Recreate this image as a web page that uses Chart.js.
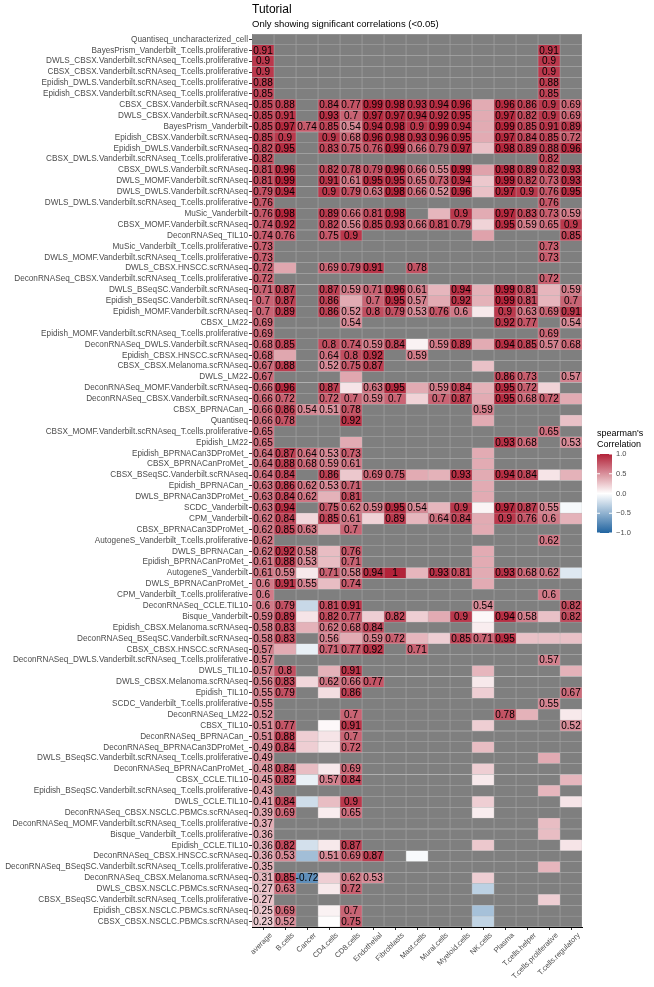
<!DOCTYPE html>
<html>
<head>
<meta charset="utf-8">
<script src="https://cdn.jsdelivr.net/npm/chart.js@4.4.0/dist/chart.umd.min.js"></script>
<style>
  body { margin: 0; background: #fff; }
  canvas { display: block; }
</style>
</head>
<body>
<canvas id="myChart" width="654" height="987"></canvas>
<script>
const _ = null;

const colLabels = ["average", "B.cells", "Cancer", "CD4.cells", "CD8.cells", "Endothelial", "Fibroblasts",
  "Mast.cells", "Mural.cells", "Myeloid.cells", "NK.cells", "Plasma", "T.cells.helper",
  "T.cells.proliferative", "T.cells.regulatory"];

const rowLabels = [
  "Quantiseq_uncharacterized_cell",
  "BayesPrism_Vanderbilt_T.cells.proliferative",
  "DWLS_CBSX.Vanderbilt.scRNAseq_T.cells.proliferative",
  "CBSX_CBSX.Vanderbilt.scRNAseq_T.cells.proliferative",
  "Epidish_DWLS.Vanderbilt.scRNAseq_T.cells.proliferative",
  "Epidish_CBSX.Vanderbilt.scRNAseq_T.cells.proliferative",
  "CBSX_CBSX.Vanderbilt.scRNAseq",
  "DWLS_CBSX.Vanderbilt.scRNAseq",
  "BayesPrism_Vanderbilt",
  "Epidish_CBSX.Vanderbilt.scRNAseq",
  "Epidish_DWLS.Vanderbilt.scRNAseq",
  "CBSX_DWLS.Vanderbilt.scRNAseq_T.cells.proliferative",
  "CBSX_DWLS.Vanderbilt.scRNAseq",
  "DWLS_MOMF.Vanderbilt.scRNAseq",
  "DWLS_DWLS.Vanderbilt.scRNAseq",
  "DWLS_DWLS.Vanderbilt.scRNAseq_T.cells.proliferative",
  "MuSic_Vanderbilt",
  "CBSX_MOMF.Vanderbilt.scRNAseq",
  "DeconRNASeq_TIL10",
  "MuSic_Vanderbilt_T.cells.proliferative",
  "DWLS_MOMF.Vanderbilt.scRNAseq_T.cells.proliferative",
  "DWLS_CBSX.HNSCC.scRNAseq",
  "DeconRNASeq_CBSX.Vanderbilt.scRNAseq_T.cells.proliferative",
  "DWLS_BSeqSC.Vanderbilt.scRNAseq",
  "Epidish_BSeqSC.Vanderbilt.scRNAseq",
  "Epidish_MOMF.Vanderbilt.scRNAseq",
  "CBSX_LM22",
  "Epidish_MOMF.Vanderbilt.scRNAseq_T.cells.proliferative",
  "DeconRNASeq_DWLS.Vanderbilt.scRNAseq",
  "Epidish_CBSX.HNSCC.scRNAseq",
  "CBSX_CBSX.Melanoma.scRNAseq",
  "DWLS_LM22",
  "DeconRNASeq_MOMF.Vanderbilt.scRNAseq",
  "DeconRNASeq_CBSX.Vanderbilt.scRNAseq",
  "CBSX_BPRNACan_",
  "Quantiseq",
  "CBSX_MOMF.Vanderbilt.scRNAseq_T.cells.proliferative",
  "Epidish_LM22",
  "Epidish_BPRNACan3DProMet_",
  "CBSX_BPRNACanProMet_",
  "CBSX_BSeqSC.Vanderbilt.scRNAseq",
  "Epidish_BPRNACan_",
  "DWLS_BPRNACan3DProMet_",
  "SCDC_Vanderbilt",
  "CPM_Vanderbilt",
  "CBSX_BPRNACan3DProMet_",
  "AutogeneS_Vanderbilt_T.cells.proliferative",
  "DWLS_BPRNACan_",
  "Epidish_BPRNACanProMet_",
  "AutogeneS_Vanderbilt",
  "DWLS_BPRNACanProMet_",
  "CPM_Vanderbilt_T.cells.proliferative",
  "DeconRNASeq_CCLE.TIL10",
  "Bisque_Vanderbilt",
  "Epidish_CBSX.Melanoma.scRNAseq",
  "DeconRNASeq_BSeqSC.Vanderbilt.scRNAseq",
  "CBSX_CBSX.HNSCC.scRNAseq",
  "DeconRNASeq_DWLS.Vanderbilt.scRNAseq_T.cells.proliferative",
  "DWLS_TIL10",
  "DWLS_CBSX.Melanoma.scRNAseq",
  "Epidish_TIL10",
  "SCDC_Vanderbilt_T.cells.proliferative",
  "DeconRNASeq_LM22",
  "CBSX_TIL10",
  "DeconRNASeq_BPRNACan_",
  "DeconRNASeq_BPRNACan3DProMet_",
  "DWLS_BSeqSC.Vanderbilt.scRNAseq_T.cells.proliferative",
  "DeconRNASeq_BPRNACanProMet_",
  "CBSX_CCLE.TIL10",
  "Epidish_BSeqSC.Vanderbilt.scRNAseq_T.cells.proliferative",
  "DWLS_CCLE.TIL10",
  "DeconRNASeq_CBSX.NSCLC.PBMCs.scRNAseq",
  "DeconRNASeq_MOMF.Vanderbilt.scRNAseq_T.cells.proliferative",
  "Bisque_Vanderbilt_T.cells.proliferative",
  "Epidish_CCLE.TIL10",
  "DeconRNASeq_CBSX.HNSCC.scRNAseq",
  "DeconRNASeq_BSeqSC.Vanderbilt.scRNAseq_T.cells.proliferative",
  "DeconRNASeq_CBSX.Melanoma.scRNAseq",
  "DWLS_CBSX.NSCLC.PBMCs.scRNAseq",
  "CBSX_BSeqSC.Vanderbilt.scRNAseq_T.cells.proliferative",
  "Epidish_CBSX.NSCLC.PBMCs.scRNAseq",
  "CBSX_CBSX.NSCLC.PBMCs.scRNAseq",
];

// spearman correlation per row, columns in colLabels order (null = no value, grey tile)
const corr = [
  [_, _, _, _, _, _, _, _, _, _, _, _, _, _, _],
  [0.91, _, _, _, _, _, _, _, _, _, _, _, _, 0.91, _],
  [0.9, _, _, _, _, _, _, _, _, _, _, _, _, 0.9, _],
  [0.9, _, _, _, _, _, _, _, _, _, _, _, _, 0.9, _],
  [0.88, _, _, _, _, _, _, _, _, _, _, _, _, 0.88, _],
  [0.85, _, _, _, _, _, _, _, _, _, _, _, _, 0.85, _],
  [0.85, 0.88, _, 0.84, 0.77, 0.99, 0.98, 0.93, 0.94, 0.96, 0.38, 0.96, 0.86, 0.9, 0.69],
  [0.85, 0.91, _, 0.93, 0.7, 0.97, 0.97, 0.94, 0.92, 0.95, 0.38, 0.97, 0.82, 0.9, 0.69],
  [0.85, 0.97, 0.74, 0.85, 0.54, 0.94, 0.98, 0.9, 0.99, 0.94, 0.38, 0.99, 0.85, 0.91, 0.89],
  [0.85, 0.9, _, 0.9, 0.68, 0.96, 0.98, 0.93, 0.96, 0.95, 0.38, 0.97, 0.84, 0.85, 0.72],
  [0.82, 0.95, _, 0.83, 0.75, 0.76, 0.99, 0.66, 0.79, 0.97, 0.28, 0.98, 0.89, 0.88, 0.96],
  [0.82, _, _, _, _, _, _, _, _, _, _, _, _, 0.82, _],
  [0.81, 0.96, _, 0.82, 0.78, 0.79, 0.96, 0.66, 0.55, 0.99, 0.42, 0.98, 0.89, 0.82, 0.93],
  [0.81, 0.99, _, 0.91, 0.61, 0.95, 0.95, 0.65, 0.73, 0.94, 0.25, 0.99, 0.82, 0.73, 0.93],
  [0.79, 0.94, _, 0.9, 0.79, 0.63, 0.98, 0.66, 0.52, 0.96, 0.28, 0.97, 0.9, 0.76, 0.95],
  [0.76, _, _, _, _, _, _, _, _, _, _, _, _, 0.76, _],
  [0.76, 0.98, _, 0.89, 0.66, 0.81, 0.98, _, 0.33, 0.9, 0.38, 0.97, 0.83, 0.73, 0.59],
  [0.74, 0.92, _, 0.82, 0.56, 0.85, 0.93, 0.66, 0.81, 0.79, 0.2, 0.95, 0.59, 0.65, 0.9],
  [0.74, 0.76, _, 0.75, 0.9, _, _, _, _, _, 0.42, _, _, _, 0.85],
  [0.73, _, _, _, _, _, _, _, _, _, _, _, _, 0.73, _],
  [0.73, _, _, _, _, _, _, _, _, _, _, _, _, 0.73, _],
  [0.72, 0.4, _, 0.69, 0.79, 0.91, _, 0.78, _, _, _, _, _, _, _],
  [0.72, _, _, _, _, _, _, _, _, _, _, _, _, 0.72, _],
  [0.71, 0.87, _, 0.87, 0.59, 0.71, 0.96, 0.61, 0.33, 0.94, 0.35, 0.99, 0.81, 0.33, 0.59],
  [0.7, 0.87, _, 0.86, 0.38, 0.7, 0.95, 0.57, 0.38, 0.92, 0.35, 0.99, 0.81, 0.33, 0.7],
  [0.7, 0.89, _, 0.86, 0.52, 0.8, 0.79, 0.53, 0.76, 0.6, 0.1, 0.9, 0.63, 0.69, 0.91],
  [0.69, _, _, _, 0.54, _, _, _, _, _, _, 0.92, 0.77, _, 0.54],
  [0.69, _, _, _, _, _, _, _, _, _, _, _, _, 0.69, _],
  [0.68, 0.85, _, 0.8, 0.74, 0.59, 0.84, 0.06, 0.59, 0.89, 0.38, 0.94, 0.85, 0.57, 0.68],
  [0.68, 0.4, _, 0.64, 0.8, 0.92, _, 0.59, _, _, _, _, _, _, _],
  [0.67, 0.88, _, 0.52, 0.75, 0.87, _, _, _, _, 0.28, _, _, _, _],
  [0.67, _, _, _, 0.4, _, _, _, _, _, _, 0.86, 0.73, _, 0.57],
  [0.66, 0.96, _, 0.87, 0.12, 0.63, 0.95, 0.38, 0.59, 0.84, 0.35, 0.95, 0.72, 0.2, _],
  [0.66, 0.72, _, 0.72, 0.7, 0.59, 0.7, 0.2, 0.7, 0.87, 0.38, 0.95, 0.68, 0.72, 0.38],
  [0.66, 0.86, 0.54, 0.51, 0.78, _, _, _, _, _, 0.59, _, _, _, _],
  [0.66, 0.78, _, _, 0.92, _, _, _, _, _, 0.38, _, _, _, 0.28],
  [0.65, _, _, _, _, _, _, _, _, _, _, _, _, 0.65, _],
  [0.65, _, _, _, 0.38, _, _, _, _, _, _, 0.93, 0.68, _, 0.53],
  [0.64, 0.87, 0.64, 0.53, 0.73, _, _, _, _, _, 0.38, _, _, _, _],
  [0.64, 0.88, 0.68, 0.59, 0.61, _, _, _, _, _, 0.38, _, _, _, _],
  [0.64, 0.84, _, 0.86, 0.25, 0.69, 0.75, 0.38, 0.35, 0.93, 0.38, 0.94, 0.84, 0.12, 0.35],
  [0.63, 0.86, 0.62, 0.53, 0.71, _, _, _, _, _, 0.38, _, _, _, _],
  [0.63, 0.84, 0.62, 0.35, 0.81, _, _, _, _, _, 0.38, _, _, _, _],
  [0.63, 0.94, _, 0.75, 0.62, 0.59, 0.95, 0.54, 0.33, 0.9, 0.05, 0.97, 0.87, 0.55, -0.04],
  [0.62, 0.84, 0.18, 0.85, 0.61, 0.2, 0.89, 0.33, 0.64, 0.84, 0.38, 0.9, 0.76, 0.6, 0.35],
  [0.62, 0.85, 0.63, 0.35, 0.7, _, _, _, _, _, 0.38, _, _, _, _],
  [0.62, _, _, _, _, _, _, _, _, _, _, _, _, 0.62, _],
  [0.62, 0.92, 0.58, 0.3, 0.76, _, _, _, _, _, 0.38, _, _, _, _],
  [0.61, 0.88, 0.53, 0.3, 0.71, _, _, _, _, _, 0.38, _, _, _, _],
  [0.61, 0.59, 0.1, 0.71, 0.58, 0.94, 1, 0.33, 0.93, 0.81, 0.38, 0.93, 0.68, 0.62, -0.15],
  [0.6, 0.91, 0.55, 0.3, 0.74, _, _, _, _, _, 0.38, _, _, _, _],
  [0.6, _, _, _, _, _, _, _, _, _, _, _, _, 0.6, _],
  [0.6, 0.79, -0.25, 0.81, 0.91, _, _, _, _, _, 0.54, _, _, _, 0.82],
  [0.59, 0.89, 0.12, 0.82, 0.77, 0.22, 0.82, 0.22, 0.38, 0.9, 0.03, 0.94, 0.58, 0.28, 0.82],
  [0.58, 0.83, 0.35, 0.62, 0.68, 0.84, _, _, _, _, 0.08, _, _, _, _],
  [0.58, 0.83, _, 0.56, 0.38, 0.59, 0.72, 0.33, 0.22, 0.85, 0.71, 0.95, 0.28, 0.28, 0.28],
  [0.57, 0.38, -0.1, 0.71, 0.77, 0.92, _, 0.71, _, _, _, _, _, _, _],
  [0.57, _, _, _, _, _, _, _, _, _, _, _, _, 0.57, _],
  [0.57, 0.8, _, 0.35, 0.91, _, _, _, _, _, 0.33, _, _, _, 0.35],
  [0.56, 0.83, 0.18, 0.62, 0.66, 0.77, _, _, _, _, 0.1, _, _, _, _],
  [0.55, 0.79, _, 0.15, 0.86, _, _, _, _, _, 0.22, _, _, _, 0.67],
  [0.55, _, _, _, _, _, _, _, _, _, _, _, _, 0.55, _],
  [0.52, _, _, _, 0.7, _, _, _, _, _, _, 0.78, 0.35, _, 0.1],
  [0.51, 0.77, _, 0.03, 0.91, _, _, _, _, _, 0.22, _, _, _, 0.52],
  [0.51, 0.88, 0.22, 0.12, 0.7, _, _, _, _, _, _, _, _, _, _],
  [0.49, 0.84, 0.22, 0.1, 0.72, _, _, _, _, _, 0.3, _, _, _, _],
  [0.49, _, _, _, _, _, _, _, _, _, _, _, _, 0.38, _],
  [0.48, 0.84, 0.3, 0.1, 0.69, _, _, _, _, _, 0.22, _, _, _, _],
  [0.45, 0.82, -0.1, 0.57, 0.84, _, _, _, _, _, 0.1, _, _, _, 0.33],
  [0.43, _, _, _, _, _, _, _, _, _, _, _, _, 0.33, _],
  [0.41, 0.84, -0.22, 0.3, 0.9, _, _, _, _, _, 0.22, _, _, _, 0.12],
  [0.39, 0.69, _, 0.08, 0.65, _, _, _, _, _, 0.08, _, _, _, _],
  [0.37, _, _, _, _, _, _, _, _, _, _, _, _, 0.3, _],
  [0.36, _, _, _, _, _, _, _, _, _, _, _, _, 0.3, _],
  [0.36, 0.82, -0.2, 0.1, 0.87, _, _, _, _, _, 0.25, _, _, _, 0.12],
  [0.36, 0.53, -0.42, 0.51, 0.69, 0.87, _, -0.03, _, _, _, _, _, _, _],
  [0.35, _, _, _, _, _, _, _, _, _, _, _, _, 0.33, _],
  [0.31, 0.85, -0.72, 0.22, 0.62, 0.53, _, _, _, _, 0.22, _, _, _, _],
  [0.27, 0.63, _, 0.1, 0.72, _, _, _, _, _, -0.3, _, _, _, _],
  [0.27, _, _, _, _, _, _, _, _, _, _, _, _, 0.22, _],
  [0.25, 0.69, _, 0.06, 0.7, _, _, _, _, _, -0.4, _, _, _, _],
  [0.23, 0.52, _, 0.01, 0.75, _, _, _, _, _, -0.28, _, _, _, _],
];

// s = significant (value printed), n = not significant (tile only), . = no value
const signif = [
  "...............", "s............s.", "s............s.", "s............s.", "s............s.",
  "s............s.", "ss.sssssssnssss", "ss.sssssssnssss", "ssssssssssnssss", "ss.sssssssnssss",
  "ss.sssssssnssss", "s............s.", "ss.sssssssnssss", "ss.sssssssnssss", "ss.sssssssnssss",
  "s............s.", "ss.ssss.nsnssss", "ss.sssssssnssss", "ss.ss.....n...s", "s............s.",
  "s............s.", "sn.sss.s.......", "s............s.", "ss.sssssnsnssns", "ss.snsssnsnssns",
  "ss.sssssssnssss", "s...s......ss.s", "s............s.", "ss.ssssnssnssss", "sn.sss.s.......",
  "ss.sss....n....", "s...n......ss.s", "ss.snssnssnssn.", "ss.ssssnssnsssn", "sssss.....s....",
  "ss..s.....n...n", "s............s.", "s...n......ss.s", "sssss.....n....", "sssss.....n....",
  "ss.snssnnsnssnn", "sssss.....n....", "sssns.....n....", "ss.sssssnsnsssn", "ssnssnsnssnsssn",
  "sssns.....n....", "s............s.", "sssns.....n....", "sssns.....n....", "ssnssssnssnsssn",
  "sssns.....n....", "s............s.", "ssnss.....s...s", "ssnssnsnnsnssns", "ssnsss....n....",
  "ss.snssnnsssnnn", "snnsss.s.......", "s............s.", "ss.ns.....n...n", "ssnsss....n....",
  "ss.ns.....n...s", "s............s.", "s...s......sn.n", "ss.ns.....n...s", "ssnns..........",
  "ssnns.....n....", "s............n.", "ssnns.....n....", "ssnss.....n...n", "s............n.",
  "ssnns.....n...n", "ss.ns.....n....", "s............n.", "s............n.", "ssnns.....n...n",
  "ssnsss.n.......", "s............n.", "sssnss....n....", "ss.ns.....n....", "s............n.",
  "ss.ns.....n....", "ss.ns.....n....",
];

const legendTicks = [1, 0.5, 0, -0.5, -1];
const legendTickLabels = ["1.0", "0.5", "0.0", "\u22120.5", "\u22121.0"];

const FONT = "'Liberation Sans', Arial, Helvetica, sans-serif";
const HIGH = [178, 34, 56];
const LOW = [33, 100, 160];

function fillFor(v) {
  if (v === null) return "#7f7f7f";
  const end = v >= 0 ? HIGH : LOW;
  const t = Math.min(1, Math.abs(v));
  const rgb = end.map((e) => Math.round(255 + (e - 255) * t));
  return `rgb(${rgb[0]}, ${rgb[1]}, ${rgb[2]})`;
}

// one dataset per column, each tile is a floating bar from c to c+1
const datasets = colLabels.map((col, c) => ({
  label: col,
  data: rowLabels.map(() => [c, c + 1]),
  backgroundColor: rowLabels.map((row, r) => fillFor(corr[r][c])),
  borderColor: "rgba(175, 175, 175, 0.9)",
  borderWidth: 0.5,
  borderSkipped: false,
  categoryPercentage: 1,
  barPercentage: 1,
  grouped: false,
}));

const cellLabels = {
  id: "cellLabels",
  afterDatasetsDraw(chart) {
    const { ctx, scales } = chart;
    ctx.save();
    ctx.font = `10px ${FONT}`;
    ctx.fillStyle = "#000";
    ctx.textAlign = "center";
    ctx.textBaseline = "middle";
    rowLabels.forEach((row, r) => {
      colLabels.forEach((col, c) => {
        if (signif[r][c] !== "s") return;
        const px = scales.x.getPixelForValue(c + 0.5);
        const py = scales.y.getPixelForValue(r);
        ctx.fillText(String(corr[r][c]), px, py + 0.5);
      });
    });
    ctx.restore();
  },
};

const decorations = {
  id: "decorations",
  afterDraw(chart) {
    const { ctx, chartArea } = chart;
    ctx.save();
    // title + subtitle
    ctx.fillStyle = "#000";
    ctx.textAlign = "left";
    ctx.textBaseline = "alphabetic";
    ctx.font = `12px ${FONT}`;
    ctx.fillText("Tutorial", chartArea.left, 13);
    ctx.font = `9.5px ${FONT}`;
    ctx.fillText("Only showing significant correlations (<0.05)", chartArea.left, 27);

    // colour bar legend
    const bx = 597, bw = 15, top = 454, bottom = 533;
    ctx.font = `9px ${FONT}`;
    ctx.fillText("spearman's", bx, 436);
    ctx.fillText("Correlation", bx, 447);
    const grad = ctx.createLinearGradient(0, top, 0, bottom);
    for (let i = 0; i <= 40; i++) {
      grad.addColorStop(i / 40, fillFor(1 - i / 20));
    }
    ctx.fillStyle = grad;
    ctx.fillRect(bx, top, bw, bottom - top);
    ctx.strokeStyle = "#fff";
    ctx.lineWidth = 1;
    ctx.font = `7.5px ${FONT}`;
    ctx.textBaseline = "middle";
    legendTicks.forEach((v, i) => {
      const ty = top + ((1 - v) / 2) * (bottom - top);
      ctx.beginPath();
      ctx.moveTo(bx, ty); ctx.lineTo(bx + 3, ty);
      ctx.moveTo(bx + bw - 3, ty); ctx.lineTo(bx + bw, ty);
      ctx.stroke();
      ctx.fillStyle = "#4d4d4d";
      ctx.fillText(legendTickLabels[i], bx + bw + 4, ty);
    });
    ctx.restore();
  },
};

const ctx = document.getElementById("myChart");

new Chart(ctx, {
  type: "bar",
  data: { labels: rowLabels, datasets: datasets },
  options: {
    indexAxis: "y",
    responsive: false,
    animation: false,
    layout: { padding: { top: 34, right: 72, left: 0, bottom: 0 } },
    plugins: {
      legend: { display: false },
      tooltip: { enabled: false },
    },
    scales: {
      x: {
        type: "linear",
        min: 0,
        max: 15,
        afterBuildTicks: (axis) => {
          axis.ticks = colLabels.map((col, i) => ({ value: i + 0.5 }));
        },
        afterFit: (axis) => { axis.height = 60; },
        ticks: {
          autoSkip: false,
          minRotation: 45,
          maxRotation: 45,
          padding: 1,
          labelOffset: 8,
          color: "#4d4d4d",
          font: { family: FONT, size: 7.5 },
          callback: (value, index) => colLabels[index],
        },
        grid: { drawOnChartArea: false, tickLength: 3, tickColor: "#333" },
        border: { color: "#000", width: 1 },
      },
      y: {
        afterFit: (axis) => { axis.width = 252; },
        ticks: {
          autoSkip: false,
          padding: 1,
          color: "#4d4d4d",
          font: { family: FONT, size: 8.2 },
        },
        grid: { drawOnChartArea: false, offset: false, tickLength: 3, tickColor: "#333" },
        border: { color: "#000", width: 1 },
      },
    },
  },
  plugins: [cellLabels, decorations],
});
</script>
</body>
</html>
